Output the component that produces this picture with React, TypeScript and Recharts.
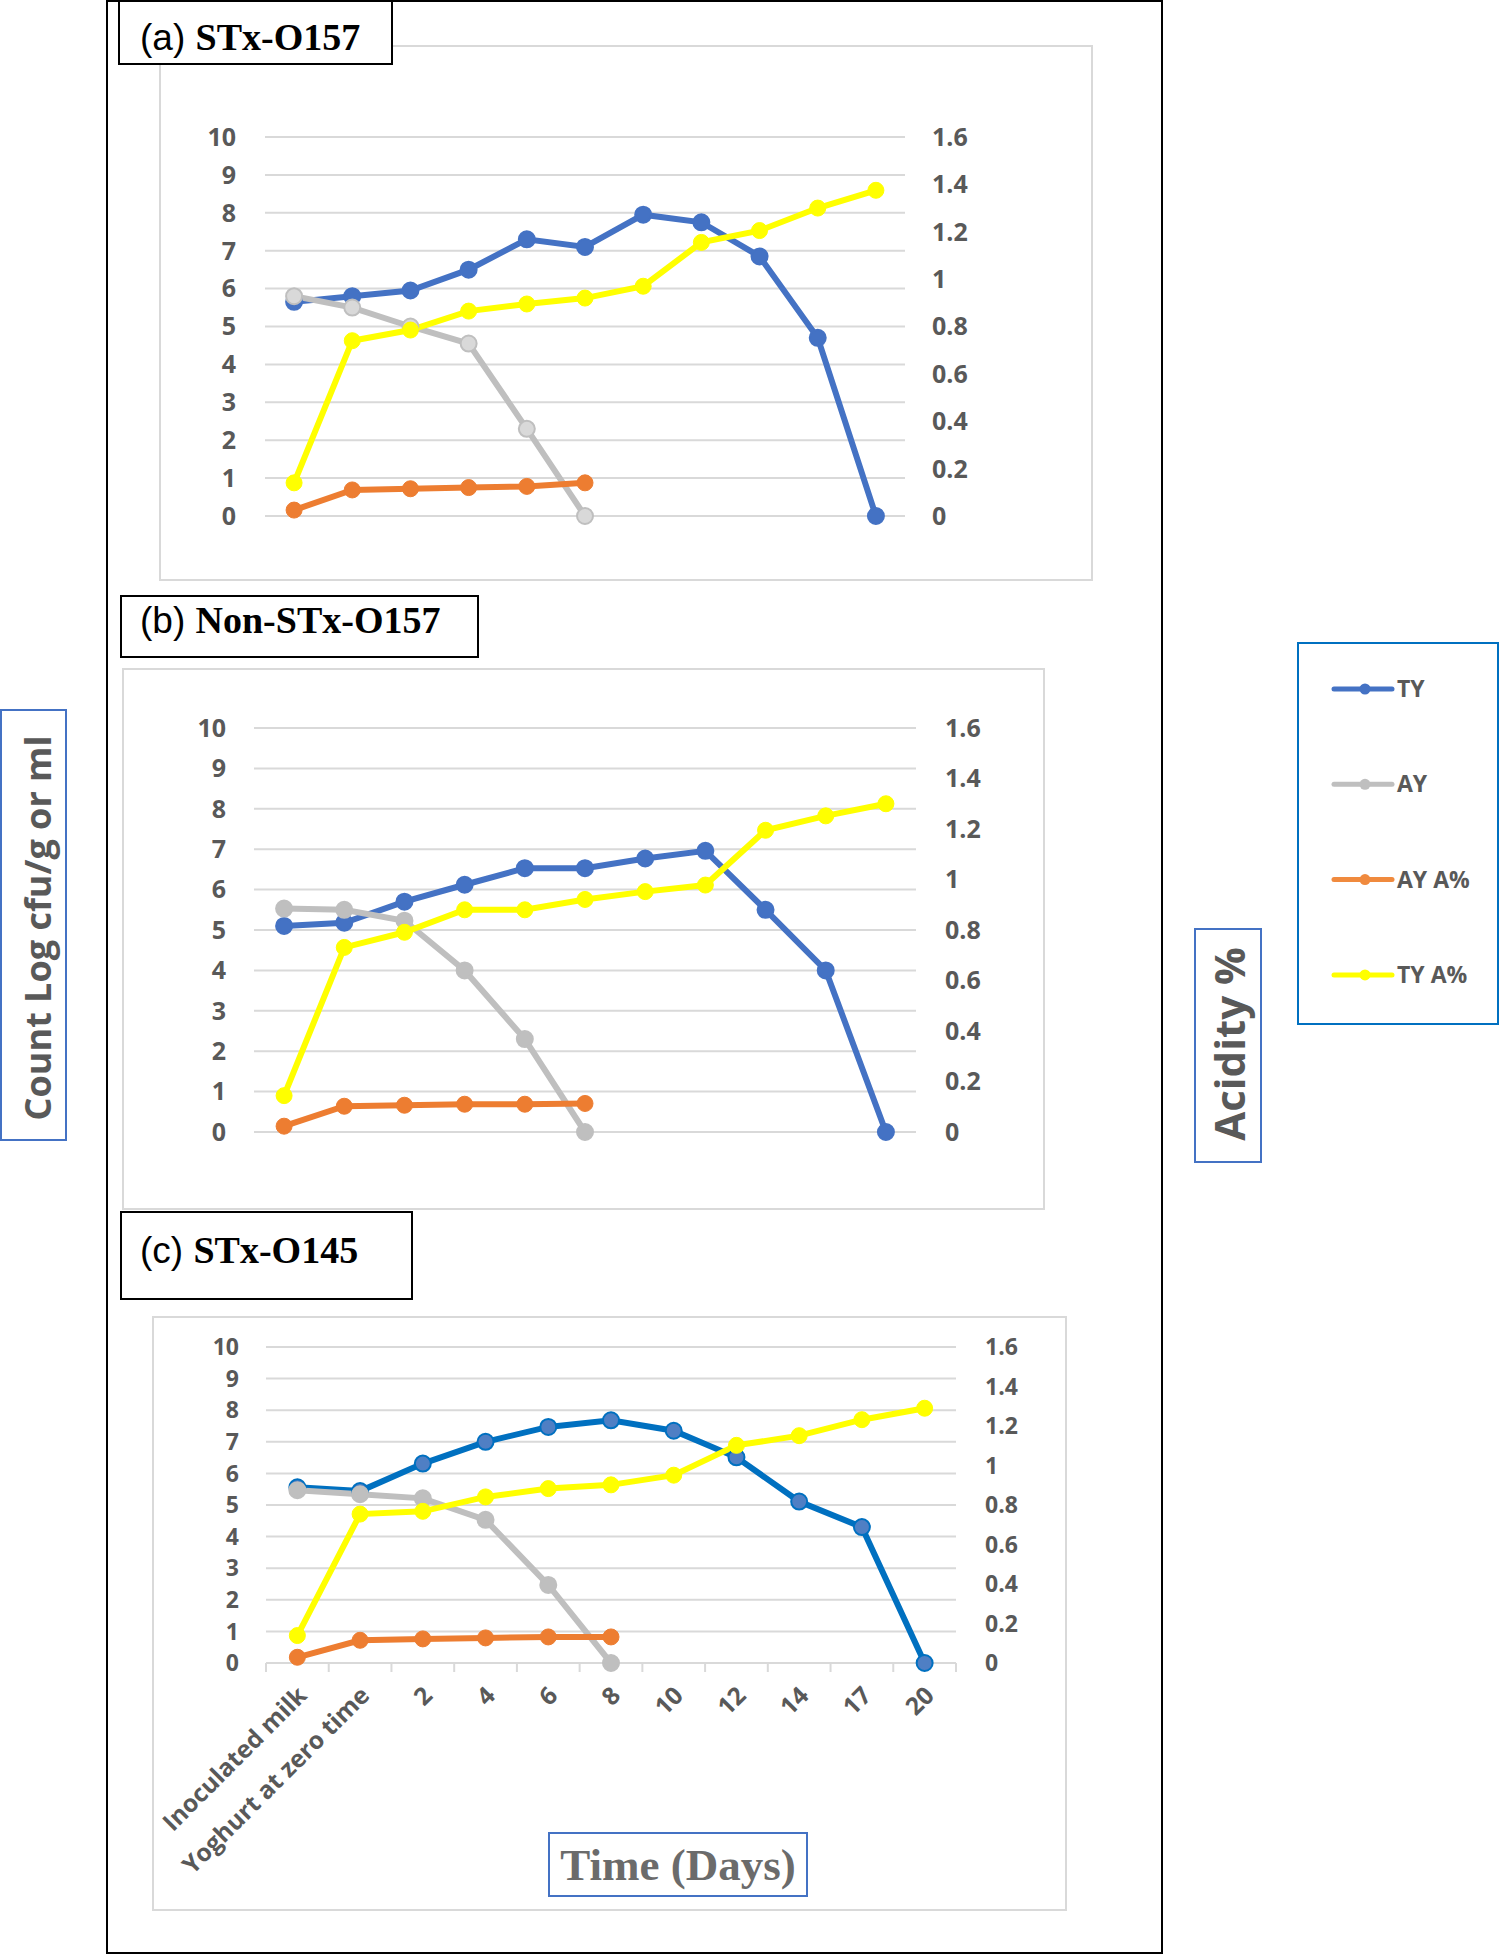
import { LineChart, Line, XAxis, YAxis, CartesianGrid } from 'recharts';

const categories = ['Inoculated milk', 'Yoghurt at zero time', '2', '4', '6', '8', '10', '12', '14', '17', '20'];
const countTicks = [0, 1, 2, 3, 4, 5, 6, 7, 8, 9, 10];
const acidityTicks = [0, 0.2, 0.4, 0.6, 0.8, 1, 1.2, 1.4, 1.6];

// (a) STx-O157
const tyA = [5.65, 5.8, 5.95, 6.5, 7.3, 7.1, 7.95, 7.75, 6.85, 4.7, 0];
const ayA = [5.8, 5.5, 5.0, 4.55, 2.3, 0];
const ayAcidA = [0.025, 0.11, 0.115, 0.12, 0.125, 0.14];
const tyAcidA = [0.14, 0.74, 0.785, 0.865, 0.895, 0.92, 0.97, 1.155, 1.205, 1.3, 1.375];

// (b) Non-STx-O157
const tyB = [5.1, 5.18, 5.7, 6.12, 6.53, 6.53, 6.77, 6.96, 5.5, 4.0, 0];
const ayB = [5.53, 5.5, 5.23, 4.0, 2.3, 0];
const ayAcidB = [0.023, 0.102, 0.106, 0.11, 0.11, 0.113];
const tyAcidB = [0.144, 0.731, 0.791, 0.88, 0.88, 0.921, 0.952, 0.978, 1.195, 1.252, 1.3];

// (c) STx-O145
const tyC = [5.56, 5.44, 6.31, 7.0, 7.47, 7.68, 7.35, 6.51, 5.11, 4.3, 0];
const ayC = [5.47, 5.34, 5.21, 4.53, 2.47, 0];
const ayAcidC = [0.029, 0.115, 0.122, 0.127, 0.132, 0.132];
const tyAcidC = [0.139, 0.754, 0.768, 0.841, 0.883, 0.902, 0.951, 1.102, 1.151, 1.232, 1.29];

const legendItems = [
  { name: 'TY', color: '#4472C4' },
  { name: 'AY', color: '#BFBFBF' },
  { name: 'AY A%', color: '#F08A3E' },
  { name: 'TY A%', color: '#FFFF00' },
];

const TEXT = '#595959';
const NARROW = "'Liberation Sans Narrow', 'Open Sans', sans-serif";
const SANS = "'Open Sans', 'DejaVu Sans', sans-serif";
const SERIF = "'Liberation Serif', 'DejaVu Serif', serif";

function buildRows(ty: number[], ay: number[], ayAcid: number[], tyAcid: number[]) {
  return categories.map((cat, i) => ({
    cat,
    ty: ty[i],
    ay: i < ay.length ? ay[i] : null,
    ayAcid: i < ayAcid.length ? ayAcid[i] : null,
    tyAcid: tyAcid[i],
  }));
}

function CategoryTick(props: any) {
  const { x, y, payload, index, visibleTicksCount } = props;
  const half = payload?.offset ?? 31;
  const last = index === visibleTicksCount - 1;
  return (
    <g>
      <line x1={x - half} x2={x - half} y1={y} y2={y + 9} stroke="#D9D9D9" strokeWidth={2} />
      {last && <line x1={x + half} x2={x + half} y1={y} y2={y + 9} stroke="#D9D9D9" strokeWidth={2} />}
      <text
        transform={`translate(${x + 11},${y + 34}) rotate(-45)`}
        textAnchor="end"
        fill={TEXT}
        fontSize={24.5}
        fontWeight={700}
        fontFamily={SANS}
      >
        {payload.value}
      </text>
    </g>
  );
}

interface Box { x: number; y: number; w: number; h: number }
interface Plot { l: number; r: number; t: number; b: number }

interface PanelProps {
  frame: Box;
  plot: Plot;
  rows: any[];
  leftGap: number;
  rightGap: number;
  tickSize: number;
  showX?: boolean;
  blue: { line: string; fill: string; stroke: string };
  greyFill: string;
}

function Panel({ frame, plot, rows, leftGap, rightGap, tickSize, showX, blue, greyFill }: PanelProps) {
  const xH = showX ? 150 : 0;
  const tick = { fill: TEXT, fontSize: tickSize, fontWeight: 700, fontFamily: NARROW };
  return (
    <div style={{ position: 'absolute', left: frame.x, top: frame.y }}>
      <LineChart
        width={frame.w}
        height={frame.h}
        data={rows}
        style={{ overflow: 'visible' }}
        margin={{ top: plot.t - frame.y, right: 0, bottom: frame.y + frame.h - plot.b - xH, left: 0 }}
      >
        <CartesianGrid yAxisId="count" vertical={false} stroke="#D9D9D9" strokeWidth={2} />
        <XAxis
          dataKey="cat"
          scale="band"
          hide={!showX}
          height={xH}
          interval={0}
          axisLine={{ stroke: '#D9D9D9', strokeWidth: 2 }}
          tickLine={false}
          tickSize={0}
          tickMargin={0}
          tick={<CategoryTick />}
        />
        <YAxis
          yAxisId="count"
          width={plot.l - frame.x}
          domain={[0, 10]}
          ticks={countTicks}
          interval={0}
          axisLine={false}
          tickLine={false}
          tickSize={0}
          tickMargin={leftGap}
          tick={tick}
        />
        <YAxis
          yAxisId="acid"
          orientation="right"
          width={frame.x + frame.w - plot.r}
          domain={[0, 1.6]}
          ticks={acidityTicks}
          interval={0}
          axisLine={false}
          tickLine={false}
          tickSize={0}
          tickMargin={rightGap}
          tick={{ ...tick, textAnchor: 'start' }}
        />
        <Line yAxisId="count" dataKey="ty" stroke={blue.line} strokeWidth={6}
          dot={{ r: 8, fill: blue.fill, stroke: blue.stroke, strokeWidth: 2 }} isAnimationActive={false} />
        <Line yAxisId="count" dataKey="ay" stroke="#BFBFBF" strokeWidth={6}
          dot={{ r: 8, fill: greyFill, stroke: '#BFBFBF', strokeWidth: 2 }} isAnimationActive={false} />
        <Line yAxisId="acid" dataKey="ayAcid" stroke="#ED7D31" strokeWidth={6}
          dot={{ r: 8, fill: '#ED7D31', stroke: '#ED7D31', strokeWidth: 1 }} isAnimationActive={false} />
        <Line yAxisId="acid" dataKey="tyAcid" stroke="#FFFF00" strokeWidth={6}
          dot={{ r: 8, fill: '#FFFF00', stroke: '#FFFF00', strokeWidth: 1 }} isAnimationActive={false} />
      </LineChart>
    </div>
  );
}

function TitleBox({ box, label, name, baseline, textX }: { box: Box; label: string; name: string; baseline: number; textX: number }) {
  return (
    <g>
      <rect x={box.x} y={box.y} width={box.w} height={box.h} fill="#fff" stroke="#000" strokeWidth={2} />
      <text x={textX} y={baseline} fill="#000">
        <tspan fontFamily="'Liberation Sans', Arial, sans-serif" fontSize={37}>{label} </tspan>
        <tspan fontFamily={SERIF} fontWeight={700} fontSize={38}>{name}</tspan>
      </text>
    </g>
  );
}

export default function App() {
  const rowsA = buildRows(tyA, ayA, ayAcidA, tyAcidA);
  const rowsB = buildRows(tyB, ayB, ayAcidB, tyAcidB);
  const rowsC = buildRows(tyC, ayC, ayAcidC, tyAcidC);
  const blueAB = { line: '#4472C4', fill: '#4472C4', stroke: '#4472C4' };
  const blueC = { line: '#0070C0', fill: '#4F7FC4', stroke: '#0070C0' };

  return (
    <div style={{ position: 'absolute', left: 0, top: 0, width: 1500, height: 1955, background: '#fff' }}>
      <svg width={1500} height={1955} style={{ position: 'absolute', left: 0, top: 0 }}>
        <rect x={107} y={1} width={1055} height={1952} fill="none" stroke="#000" strokeWidth={2} />
        <rect x={160} y={46} width={932} height={534} fill="none" stroke="#D9D9D9" strokeWidth={2} />
        <rect x={123} y={669} width={921} height={540} fill="none" stroke="#D9D9D9" strokeWidth={2} />
        <rect x={153} y={1317} width={913} height={593} fill="none" stroke="#D9D9D9" strokeWidth={2} />
        <TitleBox box={{ x: 119, y: 1, w: 273, h: 63 }} label="(a)" name="STx-O157" baseline={50} textX={140} />
        <TitleBox box={{ x: 121, y: 596, w: 357, h: 61 }} label="(b)" name="Non-STx-O157" baseline={633} textX={140} />
        <TitleBox box={{ x: 121, y: 1212, w: 291, h: 87 }} label="(c)" name="STx-O145" baseline={1263} textX={140} />

        <rect x={1} y={710} width={65} height={430} fill="#fff" stroke="#4472C4" strokeWidth={2} />
        <text transform="translate(37,928) rotate(-90)" textAnchor="middle" dominantBaseline="central"
          fill={TEXT} fontSize={36} fontWeight={700} fontFamily={SANS}>Count Log cfu/g or ml</text>

        <rect x={1195} y={929} width={66} height={233} fill="#fff" stroke="#4472C4" strokeWidth={2} />
        <text transform="translate(1228,1044) rotate(-90)" textAnchor="middle" dominantBaseline="central"
          fill={TEXT} fontSize={42} fontWeight={700} fontFamily={SANS}>Acidity %</text>

        <rect x={1298} y={643} width={200} height={381} fill="#fff" stroke="#0070C0" strokeWidth={2} />
        {legendItems.map((it, i) => {
          const cy = 689 + i * 95.3;
          return (
            <g key={it.name}>
              <line x1={1334} x2={1392} y1={cy} y2={cy} stroke={it.color} strokeWidth={5} strokeLinecap="round" />
              <circle cx={1365} cy={cy} r={5.5} fill={it.color} />
              <text x={1397} y={cy + 8} fill={TEXT} fontSize={23} fontWeight={700} fontFamily={NARROW}>{it.name}</text>
            </g>
          );
        })}

        <rect x={549} y={1833} width={258} height={63} fill="#fff" stroke="#4472C4" strokeWidth={2} />
        <text x={678} y={1880} textAnchor="middle" fill="#6B6B6B" fontSize={45} fontWeight={700} fontFamily={SERIF}>Time (Days)</text>
      </svg>

      <Panel frame={{ x: 160, y: 46, w: 932, h: 534 }} plot={{ l: 265, r: 905, t: 137, b: 516 }}
        rows={rowsA} leftGap={29} rightGap={27} tickSize={25} blue={blueAB} greyFill="#D9D9D9" />
      <Panel frame={{ x: 123, y: 669, w: 921, h: 540 }} plot={{ l: 254, r: 916, t: 728, b: 1132 }}
        rows={rowsB} leftGap={28} rightGap={29} tickSize={25} blue={blueAB} greyFill="#BFBFBF" />
      <Panel frame={{ x: 153, y: 1317, w: 913, h: 593 }} plot={{ l: 266, r: 956, t: 1347, b: 1663 }}
        rows={rowsC} leftGap={27} rightGap={29} tickSize={23} showX blue={blueC} greyFill="#BFBFBF" />
    </div>
  );
}
